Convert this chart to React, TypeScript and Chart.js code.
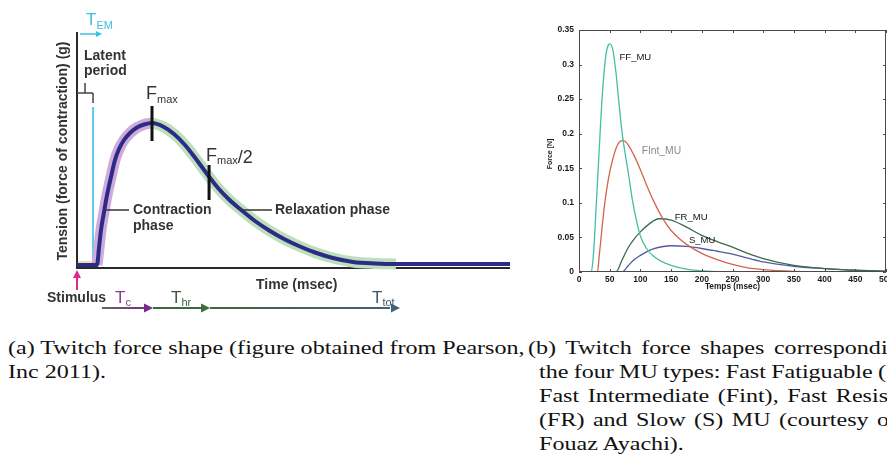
import React, { useEffect, useRef } from "react";
import { Chart, registerables } from "chart.js";
Chart.register(...registerables);

// ---------------- Panel (a): twitch force shape (arbitrary units) ----------------
const twitchTime = [0, 9.24, 10.16, 11.09, 12.47, 13.86, 15.7, 17.55, 19.4, 21.71, 24.48, 27.71, 30.95, 34.64, 39.72, 44.8, 49.88, 54.97, 60.05, 65.13, 70.21, 75.29, 82.22, 89.15, 96.07, 103, 109.93, 118.24, 127.48, 137.64, 147.34, 200];
const twitchTension = [0.0127, 0.0127, 0.0847, 0.161, 0.237, 0.309, 0.3856, 0.4576, 0.5042, 0.5424, 0.572, 0.5953, 0.608, 0.6144, 0.5996, 0.5678, 0.5212, 0.4619, 0.3983, 0.339, 0.2903, 0.25, 0.1992, 0.1568, 0.1208, 0.0911, 0.0657, 0.0424, 0.0254, 0.0191, 0.0169, 0.0169];
const riseStartIdx = 1;
const peakIdx = 13; // Fmax  (Tc)
const relaxEndIdx = 30; // Ttot
const halfRelaxTime = 61; // Fmax/2 (Thr)
const latentEnd = 7.4;
const arrowStart = 11.5;

// ---------------- Panel (b): twitch force of the four MU types ----------------
const ffTime = [0, 20, 22.5, 25, 28, 31, 34, 37, 40, 43, 46, 50, 55, 60, 65, 70, 75, 80, 87, 94, 100, 110, 120, 135, 150, 175, 200, 250, 500];
const ffForce = [0, 0, 0.015, 0.045, 0.095, 0.145, 0.195, 0.243, 0.28, 0.308, 0.324, 0.33, 0.322, 0.29, 0.245, 0.203, 0.172, 0.145, 0.104, 0.073, 0.052, 0.034, 0.024, 0.015, 0.0097, 0.004, 0.0015, 0, 0];
const fintTime = [0, 30, 33, 36, 42, 48, 54, 60, 65, 70, 75, 80, 90, 100, 110, 123, 138, 150, 165, 180, 200, 225, 250, 275, 300, 350, 400, 500];
const fintForce = [0, 0, 0.024, 0.05, 0.1, 0.135, 0.16, 0.178, 0.187, 0.19, 0.189, 0.184, 0.168, 0.148, 0.126, 0.1, 0.075, 0.06, 0.047, 0.037, 0.027, 0.018, 0.011, 0.006, 0.0035, 0.001, 0, 0];
const frTime = [0, 60, 70, 80, 90, 100, 115, 130, 150, 175, 200, 225, 250, 275, 300, 350, 400, 450, 500];
const frForce = [0, 0, 0.017, 0.035, 0.048, 0.058, 0.07, 0.077, 0.075, 0.065, 0.053, 0.044, 0.036, 0.027, 0.0195, 0.0097, 0.005, 0.0025, 0.0012];
const sTime = [0, 70, 80, 90, 100, 110, 120, 135, 150, 175, 200, 225, 250, 275, 300, 350, 400, 450, 500];
const sForce = [0, 0, 0.009, 0.018, 0.024, 0.029, 0.033, 0.0365, 0.038, 0.037, 0.034, 0.03, 0.0257, 0.02, 0.0145, 0.0083, 0.005, 0.0025, 0.0012];
const muNames = ["FF_MU", "FInt_MU", "FR_MU", "S_MU"];
const xTicks = [0, 50, 100, 150, 200, 250, 300, 350, 400, 450, 500];
const yTicks = [0, 0.05, 0.1, 0.15, 0.2, 0.25, 0.3, 0.35];

const SANS = '"Liberation Sans", Arial, Helvetica, sans-serif';
const pts = (xs: number[], ys: number[]) => xs.map((x, i) => ({ x, y: ys[i] }));

function line(ctx: CanvasRenderingContext2D, x1: number, y1: number, x2: number, y2: number) {
  ctx.beginPath();
  ctx.moveTo(x1, y1);
  ctx.lineTo(x2, y2);
  ctx.stroke();
}
function head(ctx: CanvasRenderingContext2D, tx: number, ty: number, dir: "right" | "up", len: number, half: number) {
  ctx.beginPath();
  if (dir === "right") {
    ctx.moveTo(tx, ty);
    ctx.lineTo(tx - len, ty - half);
    ctx.lineTo(tx - len, ty + half);
  } else {
    ctx.moveTo(tx, ty);
    ctx.lineTo(tx - half, ty + len);
    ctx.lineTo(tx + half, ty + len);
  }
  ctx.closePath();
  ctx.fill();
}
function sub(ctx: CanvasRenderingContext2D, main: string, s: string, x: number, base: number, size: number, subSize: number, color: string, subDrop: number) {
  ctx.fillStyle = color;
  ctx.textAlign = "left";
  ctx.textBaseline = "alphabetic";
  ctx.font = `${size}px ${SANS}`;
  ctx.fillText(main, x, base);
  const w = ctx.measureText(main).width;
  ctx.font = `${subSize}px ${SANS}`;
  ctx.fillText(s, x + w, base + subDrop);
  return x + w + ctx.measureText(s).width;
}

function TwitchPanel() {
  const ref = useRef<HTMLCanvasElement>(null);
  useEffect(() => {
    const all = pts(twitchTime, twitchTension);
    const annot = {
      id: "annot",
      beforeDatasetsDraw(chart: any) {
        const { ctx, chartArea: a, scales } = chart;
        const x = scales.x;
        ctx.save();
        ctx.fillStyle = "#f3dcae";
        const xl = x.getPixelForValue(latentEnd);
        ctx.fillRect(a.left, a.bottom - 7, xl - a.left, 5);
        ctx.strokeStyle = "#2a2a2a";
        ctx.lineWidth = 2;
        line(ctx, a.left, a.top, a.left, a.bottom + 1);
        line(ctx, a.left, a.bottom, a.right, a.bottom);
        ctx.strokeStyle = "#3cc0e6";
        ctx.lineWidth = 1.6;
        line(ctx, xl, 107, xl, a.bottom - 3);
        ctx.restore();
      },
      afterDatasetsDraw(chart: any) {
        const { ctx, chartArea: a, scales } = chart;
        const x = scales.x;
        const xl = x.getPixelForValue(latentEnd);
        const xp = x.getPixelForValue(twitchTime[peakIdx]);
        const xh = x.getPixelForValue(halfRelaxTime);
        const xe = x.getPixelForValue(twitchTime[relaxEndIdx]);
        const xs = x.getPixelForValue(arrowStart);
        ctx.save();
        // T_EM
        sub(ctx, "T", "EM", 86, 25, 17, 11, "#3cc0e6", 4);
        ctx.strokeStyle = "#3cc0e6";
        ctx.fillStyle = "#3cc0e6";
        ctx.lineWidth = 1.5;
        line(ctx, a.left + 3, 34, 97, 34);
        head(ctx, 102, 34, "right", 6, 3);
        // latent period bracket
        ctx.strokeStyle = "#444";
        ctx.lineWidth = 1.5;
        line(ctx, a.left, 93, xl, 93);
        line(ctx, 85, 83, 85, 93);
        line(ctx, xl, 93, xl, 103);
        ctx.fillStyle = "#333";
        ctx.font = `bold 14px ${SANS}`;
        ctx.textBaseline = "alphabetic";
        ctx.textAlign = "left";
        ctx.fillText("Latent", 84, 60);
        ctx.fillText("period", 84, 75);
        // Fmax
        sub(ctx, "F", "max", 146, 99, 18, 11, "#333", 4);
        ctx.strokeStyle = "#111";
        ctx.lineWidth = 3;
        line(ctx, xp, 106, xp, 141);
        // Fmax/2
        const e = sub(ctx, "F", "max", 206, 161, 18, 11, "#333", 3);
        ctx.font = `18px ${SANS}`;
        ctx.fillText("/2", e, 163);
        line(ctx, xh, 165, xh, 200);
        // phase labels
        ctx.strokeStyle = "#333";
        ctx.lineWidth = 1.5;
        line(ctx, 106, 210, 129, 210);
        line(ctx, 242, 210, 272, 210);
        ctx.fillStyle = "#333";
        ctx.font = `bold 14px ${SANS}`;
        ctx.textBaseline = "middle";
        ctx.fillText("Contraction", 133, 210);
        ctx.fillText("phase", 133, 226);
        ctx.fillText("Relaxation phase", 275, 210);
        ctx.fillText("Time (msec)", 256, 285);
        ctx.fillText("Stimulus", 47, 298);
        // stimulus arrow
        ctx.strokeStyle = "#e0288c";
        ctx.fillStyle = "#e0288c";
        ctx.lineWidth = 2;
        line(ctx, a.left, 290, a.left, 276);
        head(ctx, a.left, 270, "up", 8, 4);
        // T labels
        sub(ctx, "T", "c", 115, 303, 17, 11, "#8b3a96", 3);
        sub(ctx, "T", "hr", 171, 303, 17, 11, "#3a5a3a", 3);
        sub(ctx, "T", "tot", 372, 303, 17, 11, "#3d5a6b", 3);
        // time arrows
        const ya = 308;
        ctx.lineWidth = 2;
        let g = ctx.createLinearGradient(xs, 0, xp, 0);
        g.addColorStop(0, "#666");
        g.addColorStop(1, "#7a2a88");
        ctx.strokeStyle = g;
        line(ctx, xs, ya, xp - 6, ya);
        ctx.fillStyle = "#7a2a88";
        head(ctx, xp + 1, ya, "right", 9, 4.5);
        ctx.strokeStyle = "#3c6a3c";
        line(ctx, xp + 1, ya, xh - 6, ya);
        ctx.fillStyle = "#3c6a3c";
        head(ctx, xh + 1, ya, "right", 9, 4.5);
        g = ctx.createLinearGradient(xh, 0, xe, 0);
        g.addColorStop(0, "#3c6a3c");
        g.addColorStop(1, "#41627a");
        ctx.strokeStyle = g;
        line(ctx, xh + 1, ya, xe - 6, ya);
        ctx.fillStyle = "#41627a";
        head(ctx, xe + 4, ya, "right", 9, 4.5);
        // y axis title
        ctx.translate(63, 151);
        ctx.rotate(-Math.PI / 2);
        ctx.fillStyle = "#333";
        ctx.font = `bold 14px ${SANS}`;
        ctx.textAlign = "center";
        ctx.textBaseline = "middle";
        ctx.fillText("Tension (force of contraction) (g)", 0, 0);
        ctx.restore();
      },
    };
    const chart = new Chart(ref.current as HTMLCanvasElement, {
      type: "line",
      data: {
        datasets: [
          { data: all, borderColor: "#2c2c86", borderWidth: 4, order: 0 } as any,
          { data: all.slice(riseStartIdx, peakIdx + 1), borderColor: "#cfabdc", borderWidth: 11, order: 1 } as any,
          { data: all.slice(peakIdx, relaxEndIdx + 1), borderColor: "#bddfbb", borderWidth: 11, order: 1 } as any,
        ],
      },
      options: {
        animation: false,
        responsive: false,
        layout: { padding: { left: 77, right: 10, top: 32, bottom: 62 } },
        scales: {
          x: { type: "linear", display: false, min: 0, max: 200 },
          y: { type: "linear", display: false, min: 0, max: 1 },
        },
        elements: { point: { radius: 0 }, line: { cubicInterpolationMode: "monotone", borderCapStyle: "butt" } as any },
        datasets: { line: { clip: false } as any },
        plugins: { legend: { display: false }, tooltip: { enabled: false } },
      },
      plugins: [annot],
    });
    return () => chart.destroy();
  }, []);
  return <canvas ref={ref} width={520} height={330} style={{ position: "absolute", left: 0, top: 0, width: 520, height: 330 }} />;
}

function MUPanel() {
  const ref = useRef<HTMLCanvasElement>(null);
  useEffect(() => {
    const tickFont = { family: SANS, size: 8.5, weight: "bold" as const };
    const labelPos = [
      { x: 66, y: 0.31, color: "#111", size: 9.5 },
      { x: 102, y: 0.175, color: "#8a8a8a", size: 10.3 },
      { x: 156, y: 0.0795, color: "#111", size: 9.5 },
      { x: 179, y: 0.046, color: "#111", size: 9.5 },
    ];
    const deco = {
      id: "deco",
      afterDatasetsDraw(chart: any) {
        const { ctx, chartArea: a, scales } = chart;
        const x = scales.x;
        const y = scales.y;
        ctx.save();
        ctx.strokeStyle = "#4a4a4a";
        ctx.lineWidth = 1;
        ctx.strokeRect(a.left + 0.5, a.top + 0.5, a.right - a.left - 1, a.bottom - a.top - 1);
        xTicks.forEach((v) => {
          const px = Math.round(x.getPixelForValue(v)) + 0.5;
          line(ctx, px, a.bottom, px, a.bottom - 3);
          line(ctx, px, a.top, px, a.top + 3);
        });
        yTicks.forEach((v) => {
          const py = Math.round(y.getPixelForValue(v)) + 0.5;
          line(ctx, a.left, py, a.left + 3, py);
          line(ctx, a.right, py, a.right - 3, py);
        });
        muNames.forEach((n, i) => {
          const p = labelPos[i];
          ctx.fillStyle = p.color;
          ctx.font = `${p.size}px ${SANS}`;
          ctx.textAlign = "left";
          ctx.textBaseline = "middle";
          ctx.fillText(n, x.getPixelForValue(p.x), y.getPixelForValue(p.y));
        });
        ctx.fillStyle = "#1a1a1a";
        ctx.font = `bold 8.3px ${SANS}`;
        ctx.textAlign = "center";
        ctx.fillText("Temps (msec)", (a.left + a.right) / 2, 287);
        ctx.translate(10, 154);
        ctx.rotate(-Math.PI / 2);
        ctx.font = `bold 7px ${SANS}`;
        ctx.fillText("Force [N]", 0, 0);
        ctx.restore();
      },
    };
    const mk = (xs: number[], ys: number[], color: string) => ({
      data: pts(xs, ys),
      borderColor: color,
      borderWidth: 1.3,
    });
    const chart = new Chart(ref.current as HTMLCanvasElement, {
      type: "line",
      data: {
        datasets: [
          mk(ffTime, ffForce, "#45bfa5"),
          mk(fintTime, fintForce, "#d2644d"),
          mk(frTime, frForce, "#3d6b4f"),
          mk(sTime, sForce, "#555a9e"),
        ] as any,
      },
      options: {
        animation: false,
        responsive: false,
        layout: { padding: { left: 0, right: 14, top: 30, bottom: 0 } },
        scales: {
          x: {
            type: "linear",
            min: 0,
            max: 500,
            grid: { display: false, drawTicks: false },
            border: { display: false },
            ticks: { font: tickFont, color: "#1a1a1a", padding: 3, maxRotation: 0, callback: (v: any) => `${v}` },
            afterBuildTicks: (s: any) => { s.ticks = xTicks.map((value) => ({ value })); },
            afterFit: (s: any) => { s.height = 38; },
          } as any,
          y: {
            type: "linear",
            min: 0,
            max: 0.35,
            grid: { display: false, drawTicks: false },
            border: { display: false },
            ticks: { font: tickFont, color: "#1a1a1a", padding: 5, callback: (v: any) => `${v}` },
            afterBuildTicks: (s: any) => { s.ticks = yTicks.map((value) => ({ value })); },
            afterFit: (s: any) => { s.width = 39; },
          } as any,
        },
        elements: { point: { radius: 0 }, line: { cubicInterpolationMode: "monotone" } as any },
        plugins: { legend: { display: false }, tooltip: { enabled: false } },
      },
      plugins: [deco],
    });
    return () => chart.destroy();
  }, []);
  return <canvas ref={ref} width={360} height={310} style={{ position: "absolute", left: 540, top: 0, width: 360, height: 310 }} />;
}

// ---------------- captions ----------------
const CAP_FONT_SIZE = 18;
const CAP_FAMILY = '"Liberation Serif", "Times New Roman", serif';
const captionLines = [
  { text: "(a) Twitch force shape (figure obtained from Pearson,", left: 8, cy: 348, prefix: "", target: 0 },
  { text: "Inc 2011).", left: 8, cy: 372, prefix: "", target: 0 },
  { text: "(b) Twitch force shapes corresponding to", left: 528, cy: 348, prefix: "(b) Twitch force shapes correspondi", target: 360 },
  { text: "the four MU types: Fast Fatiguable (FF),", left: 539, cy: 372, prefix: "the four MU types: Fast Fatiguable (", target: 347 },
  { text: "Fast Intermediate (Fint), Fast Resistant", left: 539, cy: 396, prefix: "Fast Intermediate (Fint), Fast Resis", target: 349 },
  { text: "(FR) and Slow (S) MU (courtesy of", left: 539, cy: 420, prefix: "(FR) and Slow (S) MU (courtesy o", target: 350 },
  { text: "Fouaz Ayachi).", left: 539, cy: 444, prefix: "", target: 0 },
];
const CAP_REF_WIDTH = 517;

function Captions() {
  const c = document.createElement("canvas").getContext("2d") as CanvasRenderingContext2D;
  c.font = `${CAP_FONT_SIZE}px ${CAP_FAMILY}`;
  const k = CAP_REF_WIDTH / c.measureText(captionLines[0].text).width;
  return (
    <>
      {captionLines.map((l, i) => {
        let ws = 0;
        if (l.prefix) {
          const m = c.measureText(l.prefix).width;
          const n = (l.prefix.match(/ /g) || []).length;
          ws = (l.target / k - m) / n;
        }
        return (
          <div
            key={i}
            style={{
              position: "absolute",
              left: l.left,
              top: l.cy - 12,
              height: 24,
              lineHeight: "24px",
              whiteSpace: "nowrap",
              fontFamily: CAP_FAMILY,
              fontSize: CAP_FONT_SIZE,
              color: "#111",
              wordSpacing: `${ws}px`,
              transform: `scaleX(${k})`,
              transformOrigin: "left center",
            }}
          >
            {l.text}
          </div>
        );
      })}
    </>
  );
}

export default function App() {
  return (
    <div style={{ position: "absolute", left: 0, top: 0, width: 887, height: 461, overflow: "hidden", background: "#fff" }}>
      <TwitchPanel />
      <MUPanel />
      <Captions />
    </div>
  );
}
